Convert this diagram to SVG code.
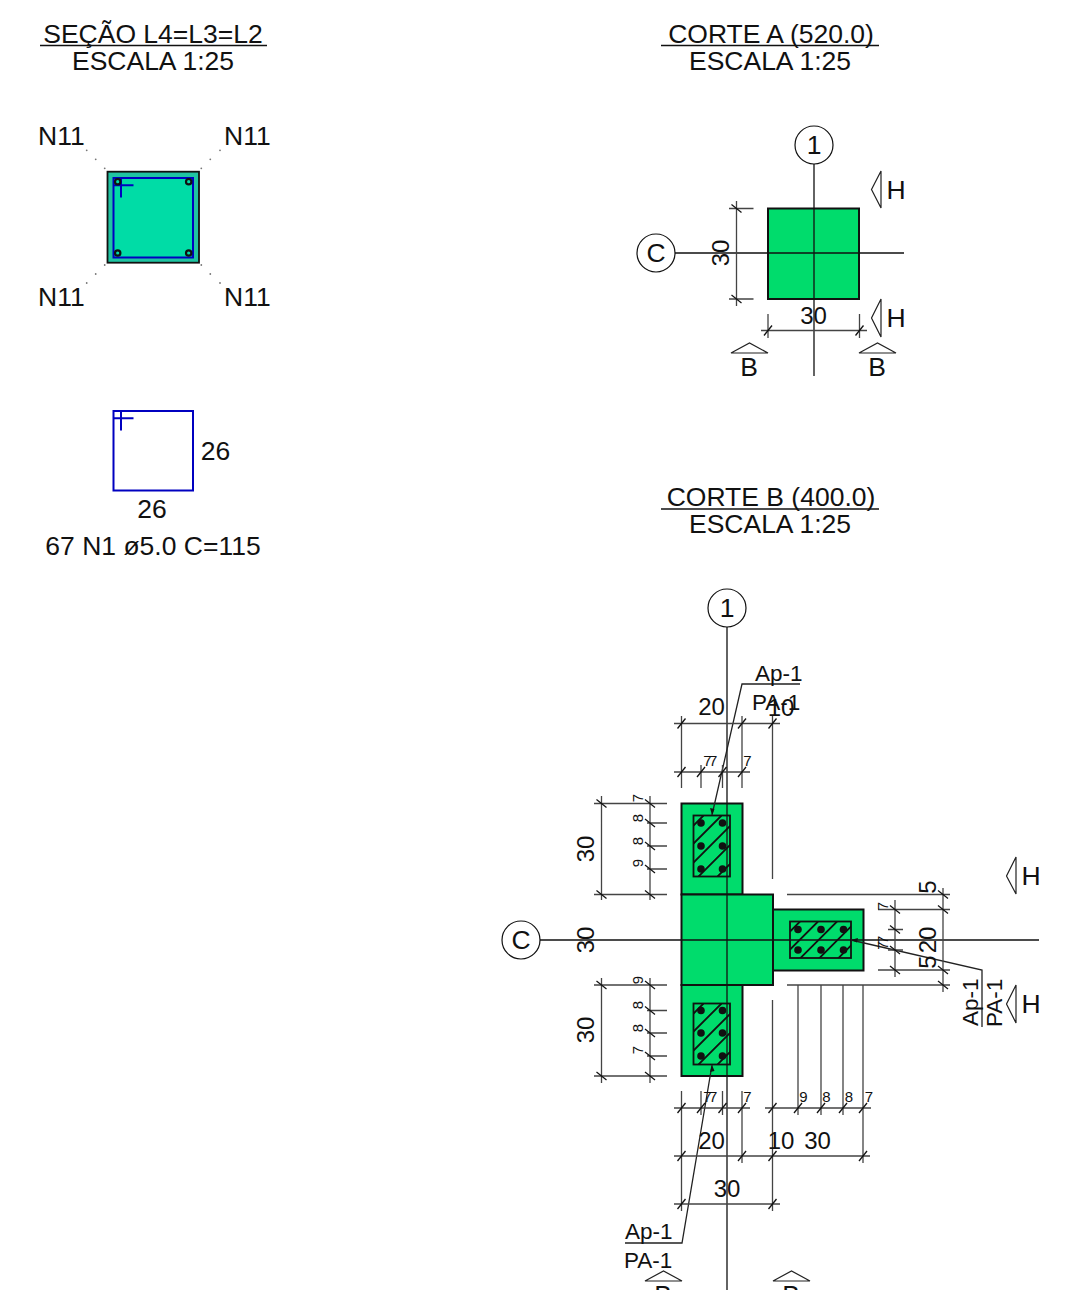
<svg xmlns="http://www.w3.org/2000/svg" xmlns:xlink="http://www.w3.org/1999/xlink" width="1079" height="1290" viewBox="0 0 1079 1290">
<style>
text{font-family:"Liberation Sans",Arial,sans-serif;fill:#111;font-size:26.500px}
.m{text-anchor:middle}
.s{font-size:15px;text-anchor:middle}
.ss{font-size:15px;text-anchor:middle;letter-spacing:-2.500px}
.d{font-size:24px;text-anchor:middle}
.p{font-size:22.500px}
.l{fill:none;stroke:#111;stroke-width:1.300}
.g{fill:none;stroke:#444;stroke-width:1.300}
.a{fill:none;stroke:#222;stroke-width:1.300}
.c{fill:#fff;stroke:#111;stroke-width:1.200}
.w{fill:#fff;stroke:#222;stroke-width:1.200}
.f{fill:#00dc6c;stroke:#111;stroke-width:2}
.h{fill:none;stroke:#111;stroke-width:1.800}
.b{fill:none;stroke:#0000c0;stroke-width:2}
.r{fill:#111}
.e{fill:#00dca8;stroke:#111;stroke-width:2.200}
.t{fill:#777}
</style>
<defs>
<path id="th" class="l" d="M-4 5L4 -5"/>
<path id="tv" class="l" d="M-5 -4L5 4"/>
<clipPath id="cv"><rect width="36.500" height="61"/></clipPath>
<clipPath id="ch"><rect width="61" height="36.500"/></clipPath>
<path id="hl" d="M0 10L10 0M0 28L28 0M0 47L47 0M0 66L66 0M0 85L85 0" class="h"/>
<g id="rv"><rect width="36.500" height="61" fill="#00dc6c"/><g clip-path="url(#cv)"><use xlink:href="#hl" href="#hl"/></g><rect width="36.500" height="61" class="h"/></g>
<g id="rh"><rect width="61" height="36.500" fill="#00dc6c"/><g clip-path="url(#ch)"><use xlink:href="#hl" href="#hl"/></g><rect width="61" height="36.500" class="h"/></g>
<g id="hooks"><path class="b" d="M114 185.300H133.500M121 178V197.500"/></g>
</defs>

<g id="secao">
<g id="secao-title"><text class="m" x="153" y="43">SEÇÃO L4=L3=L2</text><path class="l" d="M40 45.500H267"/><text class="m" x="153" y="70">ESCALA 1:25</text></g>
<g id="secao-section">
<rect x="107.500" y="171.700" width="91.500" height="91" fill="#1fc4a2" stroke="#111" stroke-width="1.800"/>
<rect x="113.500" y="178" width="79.500" height="79.500" fill="#00dca6"/>
<rect x="113.500" y="178" width="79.500" height="79.500" class="b"/>
<use xlink:href="#hooks" href="#hooks"/>
<circle class="e" cx="117.700" cy="181.700" r="2.700"/><circle class="e" cx="188.700" cy="181.700" r="2.700"/><circle class="e" cx="117.700" cy="253" r="2.700"/><circle class="e" cx="188.700" cy="253" r="2.700"/>
</g>
<g id="n11-labels">
<text x="38" y="145">N11</text><text x="224" y="145">N11</text><text x="38" y="306">N11</text><text x="224" y="306">N11</text>
<g class="t"><circle cx="86.700" cy="150.300" r=".9"/><circle cx="95.700" cy="159.300" r=".9"/><circle cx="104.700" cy="168.300" r=".9"/><circle cx="220" cy="150.300" r=".9"/><circle cx="210.300" cy="159.300" r=".9"/><circle cx="201.300" cy="168.300" r=".9"/><circle cx="104.700" cy="265" r=".9"/><circle cx="95.700" cy="274" r=".9"/><circle cx="86.700" cy="283" r=".9"/><circle cx="201.300" cy="265" r=".9"/><circle cx="210.300" cy="274" r=".9"/><circle cx="220" cy="283" r=".9"/></g>
</g>
<g id="stirrup">
<rect x="113.500" y="411" width="79.500" height="79.500" class="b"/>
<use xlink:href="#hooks" href="#hooks" y="233"/>
<text class="m" x="215.500" y="460">26</text><text class="m" x="152" y="518">26</text><text class="m" x="153" y="555">67 N1 ø5.0 C=115</text>
</g>
</g>

<g id="corte-a">
<g id="corte-a-title"><text class="m" x="771" y="43">CORTE A (520.0)</text><path class="l" d="M661 45.500H879"/><text class="m" x="770" y="70">ESCALA 1:25</text></g>
<g id="corte-a-column"><rect class="f" x="768" y="208.500" width="91" height="90.500"/></g>
<g id="corte-a-axes"><path class="l" d="M814 164V376M675 253H904"/>
<circle class="c" cx="814" cy="145" r="19"/><text class="m" x="814" y="154">1</text>
<circle class="c" cx="656" cy="253" r="19"/><text class="m" x="656" y="262">C</text></g>
<g id="corte-a-dims"><path class="g" d="M736.500 201V306M729 208.500H753.500M729 299H753.500M761 330.500H867M768 314V338M859.500 314V338"/>
<use xlink:href="#tv" href="#tv" x="736.500" y="208.500"/><use xlink:href="#tv" href="#tv" x="736.500" y="299"/><use xlink:href="#th" href="#th" x="768" y="330.500"/><use xlink:href="#th" href="#th" x="859.500" y="330.500"/>
<text class="d" transform="translate(729 253) rotate(-90)">30</text><text class="d" x="813.500" y="324">30</text></g>
<g id="corte-a-marks"><path class="w" d="M881 171L871.500 189.500L881 208ZM881 299L871.500 318L881 337Z"/><path class="w" d="M731 353L749.500 343L768 353ZM859 353L877.500 343L896 353Z"/>
<text class="m" x="896" y="199">H</text><text class="m" x="896" y="327">H</text><text class="m" x="749" y="376">B</text><text class="m" x="877" y="376">B</text></g>
</g>

<g id="corte-b">
<g id="corte-b-title"><text class="m" x="771" y="506">CORTE B (400.0)</text><path class="l" d="M661 509H879"/><text class="m" x="770" y="533">ESCALA 1:25</text></g>
<g id="corte-b-columns">
<rect class="f" x="681.500" y="803.500" width="61" height="91"/>
<rect class="f" x="681.500" y="985" width="61" height="91"/>
<rect class="f" x="773" y="909.500" width="90.500" height="61"/>
<rect class="f" x="681.500" y="894.500" width="91.500" height="90.500"/>
</g>
<g id="corte-b-top-rebar"><use xlink:href="#rv" href="#rv" x="693.500" y="815.500"/><g class="r"><circle cx="701" cy="823" r="3.800"/><circle cx="722.500" cy="823" r="3.800"/><circle cx="701" cy="846" r="3.800"/><circle cx="722.500" cy="846" r="3.800"/><circle cx="701" cy="869" r="3.800"/><circle cx="722.500" cy="869" r="3.800"/></g></g>
<g id="corte-b-bottom-rebar"><use xlink:href="#rv" href="#rv" x="693.500" y="1003.500"/><g class="r"><circle cx="701" cy="1010.500" r="3.800"/><circle cx="722.500" cy="1010.500" r="3.800"/><circle cx="701" cy="1033" r="3.800"/><circle cx="722.500" cy="1033" r="3.800"/><circle cx="701" cy="1056" r="3.800"/><circle cx="722.500" cy="1056" r="3.800"/></g></g>
<g id="corte-b-right-rebar"><use xlink:href="#rh" href="#rh" x="790" y="921.500"/><g class="r"><circle cx="798" cy="929.500" r="3.800"/><circle cx="821" cy="929.500" r="3.800"/><circle cx="843.500" cy="929.500" r="3.800"/><circle cx="798" cy="950" r="3.800"/><circle cx="821" cy="950" r="3.800"/><circle cx="843.500" cy="950" r="3.800"/></g></g>
<g id="corte-b-axes"><path class="l" d="M727 627V1290M540 940H1039"/>
<circle class="c" cx="727" cy="608" r="19"/><text class="m" x="727" y="617">1</text>
<circle class="c" cx="521" cy="940" r="19"/><text class="m" x="521" y="949">C</text></g>
<g id="connectors">
<path class="a" d="M800 684H742L712 815M712 1065L682 1243H625M851 940L982 970V1027"/>
<path class="r" d="M712 815L710 808L714.500 809ZM712 1065L710 1072L714.500 1071ZM851 940L858 938L857 942.500Z"/>
<path class="g" d="M674 723.500H780M681.500 716V788M742 716V788M772.500 716V879M674 772H750M701 765V788M722.500 765V788"/>
<path class="g" d="M601.500 796V900M650 796V900M594 803.500H667M647 823H667M647 846H667M647 869H667M594 894.500H667M601.500 978V1083M650 978V1083M594 985H667M647 1010.500H667M647 1033H667M647 1056H667M594 1076H667"/>
<path class="g" d="M943 888V992M895 900V977M787 894.500H950M878 909.500H950M888 929.500H903M888 950H903M878 970H950M787 985H950"/>
<path class="g" d="M674 1108H750M681.500 1091V1211M701 1091V1115M722.500 1091V1115M742 1091V1163M765 1108H871M772.500 1000V1211M798 985V1115M821 985V1115M843 985V1115M863 985V1163M674 1156H870M674 1204H780"/>
<g><use xlink:href="#th" href="#th" x="681.500" y="723.500"/><use xlink:href="#th" href="#th" x="742" y="723.500"/><use xlink:href="#th" href="#th" x="772.500" y="723.500"/><use xlink:href="#th" href="#th" x="681.500" y="772"/><use xlink:href="#th" href="#th" x="701" y="772"/><use xlink:href="#th" href="#th" x="722.500" y="772"/><use xlink:href="#th" href="#th" x="742" y="772"/>
<use xlink:href="#tv" href="#tv" x="601.500" y="803.500"/><use xlink:href="#tv" href="#tv" x="650" y="803.500"/><use xlink:href="#tv" href="#tv" x="650" y="823"/><use xlink:href="#tv" href="#tv" x="650" y="846"/><use xlink:href="#tv" href="#tv" x="650" y="869"/><use xlink:href="#tv" href="#tv" x="601.500" y="894.500"/><use xlink:href="#tv" href="#tv" x="650" y="894.500"/>
<use xlink:href="#tv" href="#tv" x="601.500" y="985"/><use xlink:href="#tv" href="#tv" x="650" y="985"/><use xlink:href="#tv" href="#tv" x="650" y="1010.500"/><use xlink:href="#tv" href="#tv" x="650" y="1033"/><use xlink:href="#tv" href="#tv" x="650" y="1056"/><use xlink:href="#tv" href="#tv" x="601.500" y="1076"/><use xlink:href="#tv" href="#tv" x="650" y="1076"/>
<use xlink:href="#tv" href="#tv" x="943" y="894.500"/><use xlink:href="#tv" href="#tv" x="943" y="909.500"/><use xlink:href="#tv" href="#tv" x="943" y="970"/><use xlink:href="#tv" href="#tv" x="943" y="985"/><use xlink:href="#tv" href="#tv" x="895" y="909.500"/><use xlink:href="#tv" href="#tv" x="895" y="929.500"/><use xlink:href="#tv" href="#tv" x="895" y="950"/><use xlink:href="#tv" href="#tv" x="895" y="970"/>
<use xlink:href="#th" href="#th" x="681.500" y="1108"/><use xlink:href="#th" href="#th" x="701" y="1108"/><use xlink:href="#th" href="#th" x="722.500" y="1108"/><use xlink:href="#th" href="#th" x="742" y="1108"/><use xlink:href="#th" href="#th" x="772.500" y="1108"/><use xlink:href="#th" href="#th" x="798" y="1108"/><use xlink:href="#th" href="#th" x="821" y="1108"/><use xlink:href="#th" href="#th" x="843" y="1108"/><use xlink:href="#th" href="#th" x="863" y="1108"/>
<use xlink:href="#th" href="#th" x="681.500" y="1156"/><use xlink:href="#th" href="#th" x="742" y="1156"/><use xlink:href="#th" href="#th" x="772.500" y="1156"/><use xlink:href="#th" href="#th" x="863" y="1156"/><use xlink:href="#th" href="#th" x="681.500" y="1204"/><use xlink:href="#th" href="#th" x="772.500" y="1204"/></g>
</g>
<g id="corte-b-dim-labels">
<text class="d" x="711.500" y="715">20</text><text class="d" x="781" y="716">10</text><text class="ss" x="709" y="766">77</text><text class="s" x="747.500" y="766">7</text>
<text class="d" transform="translate(594 849) rotate(-90)">30</text><text class="d" transform="translate(594 940) rotate(-90)">30</text><text class="d" transform="translate(594 1030) rotate(-90)">30</text>
<text class="s" transform="translate(643 798) rotate(-90)">7</text><text class="s" transform="translate(643 818) rotate(-90)">8</text><text class="s" transform="translate(643 841) rotate(-90)">8</text><text class="s" transform="translate(643 863) rotate(-90)">9</text>
<text class="s" transform="translate(643 980) rotate(-90)">9</text><text class="s" transform="translate(643 1005) rotate(-90)">8</text><text class="s" transform="translate(643 1028) rotate(-90)">8</text><text class="s" transform="translate(643 1050) rotate(-90)">7</text>
<text class="d" transform="translate(936 887) rotate(-90)">5</text><text class="d" transform="translate(936 940) rotate(-90)">20</text><text class="d" transform="translate(936 962) rotate(-90)">5</text>
<text class="s" transform="translate(888 906) rotate(-90)">7</text><text class="ss" transform="translate(888 944) rotate(-90)">77</text>
<text class="ss" x="709" y="1102">77</text><text class="s" x="747.500" y="1102">7</text><text class="s" x="803.500" y="1102">9</text><text class="s" x="826.500" y="1102">8</text><text class="s" x="849" y="1102">8</text><text class="s" x="869" y="1102">7</text>
<text class="d" x="711.500" y="1149">20</text><text class="d" x="781" y="1149">10</text><text class="d" x="817.500" y="1149">30</text><text class="d" x="727" y="1197">30</text>
</g>
<g id="corte-b-leader-labels">
<text class="p" x="755" y="681">Ap-1</text><text class="p" x="752" y="710">PA-1</text>
<text class="p" x="625" y="1239">Ap-1</text><text class="p" x="624" y="1268">PA-1</text>
<text class="p" transform="translate(978 1026) rotate(-90)">Ap-1</text><text class="p" transform="translate(1002 1027) rotate(-90)">PA-1</text>
</g>
<g id="corte-b-marks"><path class="w" d="M1016 857L1006.500 876L1016 894ZM1016 985L1006.500 1004L1016 1023Z"/><path class="w" d="M645 1281L663.500 1271L682 1281ZM773 1281L791.500 1271L810 1281Z"/>
<text class="m" x="1031" y="885">H</text><text class="m" x="1031" y="1013">H</text><text class="m" x="663" y="1304">B</text><text class="m" x="791" y="1304">B</text></g>
</g>
</svg>
